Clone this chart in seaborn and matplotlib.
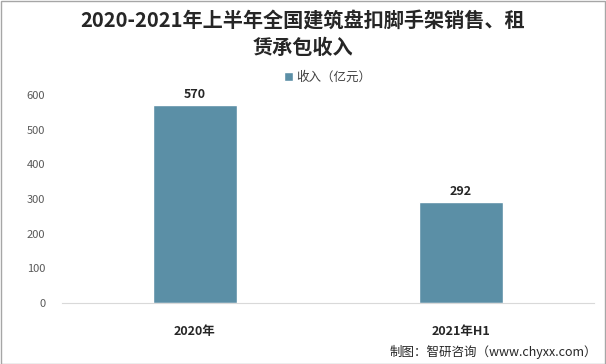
import matplotlib
matplotlib.use("Agg")
import matplotlib.pyplot as plt
import seaborn as sns
import pandas as pd

categories = ["2020年", "2021年H1"]
values = [570, 292]
series_name = "收入（亿元）"
yticks = [0, 100, 200, 300, 400, 500, 600]

sns.set_theme(style="white")
plt.rcParams['font.family'] = ['Noto Sans CJK SC', 'DejaVu Sans']

df = pd.DataFrame({"cat": categories, "val": values})

fig = plt.figure(figsize=(6.06, 3.64), dpi=100)
ax = fig.add_axes([0.102, 0.1676, 0.878, 0.5714])
color = "#5B8FA6"
sns.barplot(data=df, x="cat", y="val", ax=ax, color=color, width=0.315,
            saturation=1, label=series_name)

ax.set_ylim(0, 600)
ax.set_yticks(yticks)
ax.set_yticklabels([str(t) for t in yticks], fontsize=8, color="#595959")
ax.set_xlabel("")
ax.set_ylabel("")
for s in ["top", "right", "left"]:
    ax.spines[s].set_visible(False)
ax.spines["bottom"].set_color("#D9D9D9")
ax.spines["bottom"].set_linewidth(0.8)
ax.tick_params(axis="y", length=0, pad=12)
ax.tick_params(axis="x", length=0, pad=16)
for lbl in ax.get_xticklabels():
    lbl.set_fontweight("bold")
    lbl.set_fontsize(9)
    lbl.set_color("#262626")

for p, v in zip(ax.patches, values):
    ax.text(p.get_x() + p.get_width() / 2, v + 12, str(v), ha="center",
            va="bottom", fontsize=9, fontweight="bold", color="#262626")

leg = ax.legend(loc="lower center", bbox_to_anchor=(0.5, 1.0), frameon=False,
                fontsize=9, handlelength=0.7, handleheight=0.7, handletextpad=0.3)
for t in leg.get_texts():
    t.set_color("#404040")

fig.text(0.5, 0.945, "2020-2021年上半年全国建筑盘扣脚手架销售、租", ha="center",
         va="center", fontsize=14.5, fontweight="bold", color="#262626")
fig.text(0.5, 0.87, "赁承包收入", ha="center", va="center", fontsize=14.5,
         fontweight="bold", color="#262626")
fig.text(0.985, 0.032, "制图：智研咨询（www.chyxx.com）", ha="right", va="center",
         fontsize=9, color="#262626")

border = plt.Rectangle((0.001, 0.001), 0.997, 0.997, transform=fig.transFigure,
                       fill=False, edgecolor="#A6A6A6", linewidth=1)
fig.patches.append(border)

fig.savefig("out.png", dpi=100)
